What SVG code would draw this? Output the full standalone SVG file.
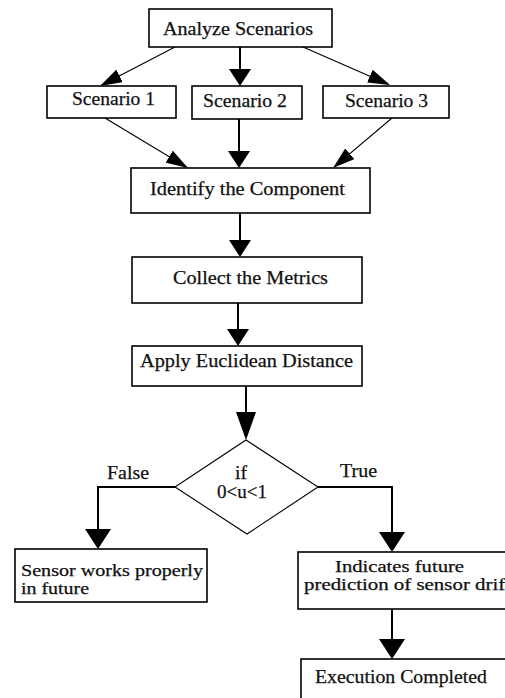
<svg xmlns="http://www.w3.org/2000/svg" width="505" height="698" viewBox="0 0 505 698">
<style>
.box{fill:#fff;stroke:#000;stroke-width:1.6}
.dia{fill:#fff;stroke:#000;stroke-width:1.1}
.t{font-family:"Liberation Serif","Times New Roman",serif;font-size:19px;fill:#111;stroke:#111;stroke-width:0.25}
.t2{font-size:16px}
.c{stroke:#000;stroke-width:2;fill:none}
.cd{stroke:#000;stroke-width:1.1;fill:none}
</style>
<defs>
<marker id="ah" viewBox="0 0 17 22" refX="14" refY="11" markerWidth="17" markerHeight="22" markerUnits="userSpaceOnUse" orient="auto"><path d="M0,0 L17,11 L0,22 z" fill="#000"/></marker>
<marker id="ahBig" viewBox="0 0 20 26" refX="17" refY="13" markerWidth="20" markerHeight="26" markerUnits="userSpaceOnUse" orient="auto"><path d="M0,0 L20,13 L0,26 z" fill="#000"/></marker>
<marker id="ahTall" viewBox="0 0 28 20" refX="25" refY="10" markerWidth="28" markerHeight="20" markerUnits="userSpaceOnUse" orient="auto"><path d="M0,0 L28,10 L0,20 z" fill="#000"/></marker>
<marker id="ahThin" viewBox="0 0 22 14" refX="20" refY="7" markerWidth="22" markerHeight="14" markerUnits="userSpaceOnUse" orient="auto"><path d="M0,0 L22,7 L0,14 z" fill="#000"/></marker>
</defs>
<g id="connectors">
<path class="cd" d="M175,47 L101.8,85.1" marker-end="url(#ahThin)"/>
<path class="c" d="M240,47 L240,83" marker-end="url(#ah)"/>
<path class="cd" d="M303,47 L388.2,84.2" marker-end="url(#ahThin)"/>
<path class="cd" d="M105,118 L186.3,167" marker-end="url(#ahThin)"/>
<path class="c" d="M239,119 L239,165" marker-end="url(#ah)"/>
<path class="cd" d="M392,118 L334.5,166.7" marker-end="url(#ahThin)"/>
<path class="c" d="M240,213 L240,254" marker-end="url(#ah)"/>
<path class="c" d="M238,303 L238,343" marker-end="url(#ah)"/>
<path class="c" d="M246,386 L246,437" marker-end="url(#ahTall)"/>
<path class="c" d="M175,487 L98,487 L98,546" marker-end="url(#ahBig)"/>
<path class="c" d="M318,487 L392,487 L392,549" marker-end="url(#ahBig)"/>
<path class="c" d="M392,609 L392,656" marker-end="url(#ahBig)"/>
</g>
<g id="n-analyze">
<rect class="box" x="149" y="9" width="183" height="38"/>
<text class="t" x="163" y="35" textLength="150" lengthAdjust="spacingAndGlyphs">Analyze Scenarios</text>
</g>
<g id="n-scenario1">
<rect class="box" x="47" y="86" width="129" height="32"/>
<text class="t" x="72" y="105" textLength="83" lengthAdjust="spacingAndGlyphs">Scenario 1</text>
</g>
<g id="n-scenario2">
<rect class="box" x="192" y="86" width="110" height="33"/>
<text class="t" x="203" y="107" textLength="84" lengthAdjust="spacingAndGlyphs">Scenario 2</text>
</g>
<g id="n-scenario3">
<rect class="box" x="323" y="86" width="126" height="32"/>
<text class="t" x="345" y="107" textLength="83" lengthAdjust="spacingAndGlyphs">Scenario 3</text>
</g>
<g id="n-identify">
<rect class="box" x="131" y="168" width="239" height="45"/>
<text class="t" x="150" y="195" textLength="195" lengthAdjust="spacingAndGlyphs">Identify the Component</text>
</g>
<g id="n-collect">
<rect class="box" x="132" y="257" width="230" height="46"/>
<text class="t" x="173" y="284" textLength="155" lengthAdjust="spacingAndGlyphs">Collect the Metrics</text>
</g>
<g id="n-apply">
<rect class="box" x="132" y="346" width="230" height="40"/>
<text class="t" x="140" y="367" textLength="213" lengthAdjust="spacingAndGlyphs">Apply Euclidean Distance</text>
</g>
<g id="n-decision">
<polygon class="dia" points="246,440 318,487 247,534 175,487"/>
<text class="t" x="235" y="479" textLength="12" lengthAdjust="spacingAndGlyphs">if</text>
<text class="t" x="217" y="498" textLength="50" lengthAdjust="spacingAndGlyphs">0&lt;u&lt;1</text>
</g>
<g id="labels">
<text class="t" x="107" y="479" textLength="42" lengthAdjust="spacingAndGlyphs">False</text>
<text class="t" x="340" y="477" textLength="37" lengthAdjust="spacingAndGlyphs">True</text>
</g>
<g id="n-sensor">
<rect class="box" x="15" y="549" width="192" height="53"/>
<text class="t t2" x="21" y="576" textLength="182" lengthAdjust="spacingAndGlyphs">Sensor works properly</text>
<text class="t t2" x="21" y="594" textLength="68" lengthAdjust="spacingAndGlyphs">in future</text>
</g>
<g id="n-indicates">
<rect class="box" x="298" y="552" width="230" height="57"/>
<text class="t t2" x="335" y="572" textLength="129" lengthAdjust="spacingAndGlyphs">Indicates future</text>
<text class="t t2" x="304" y="590" textLength="207" lengthAdjust="spacingAndGlyphs">prediction of sensor drift</text>
</g>
<g id="n-execution">
<rect class="box" x="301" y="659" width="230" height="60"/>
<text class="t" x="315" y="683" textLength="172" lengthAdjust="spacingAndGlyphs">Execution Completed</text>
</g>
</svg>
